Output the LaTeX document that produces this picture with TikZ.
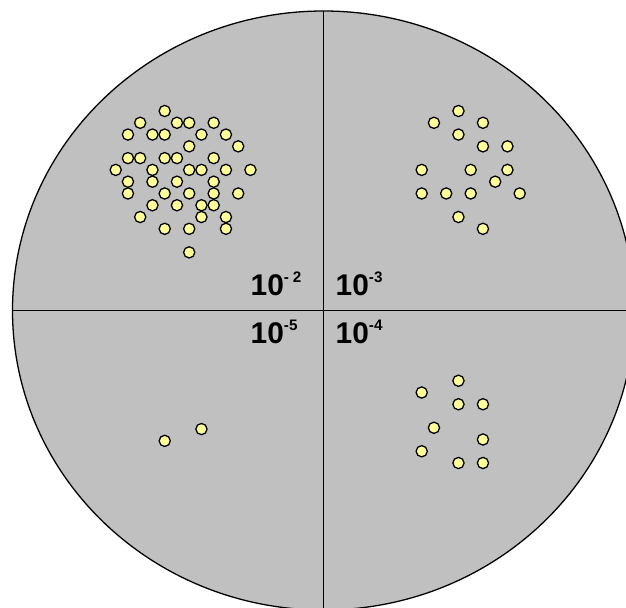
\documentclass[tikz,border=0pt]{standalone}
\usepackage{fontspec}
\setmainfont{Liberation Sans}
\definecolor{dishgray}{HTML}{C0C0C0}
\definecolor{colonyyellow}{HTML}{FFFF99}
\newcommand{\dilution}[1]{\fontsize{25.5}{30}\selectfont\bfseries 10\raisebox{0.42em}{\fontsize{13}{15}\selectfont #1}}
\begin{document}
\begin{tikzpicture}[x=0.03cm,y=-0.03cm,
  dish/.style={fill=dishgray,draw=black,line width=1.1pt},
  divider/.style={draw=black,line width=1.4pt},
  colony/.style={fill=colonyyellow,draw=black,line width=1.1pt},
  dilutionlabel/.style={inner sep=0pt,text=black}]
\useasboundingbox (0,0) rectangle (626,607);
\clip (0,0) rectangle (626,607);
\coordinate (centre) at (323.5,310.5);
\draw[dish] (centre) ellipse [x radius=311, y radius=299.5];
\draw[divider] (12.5,310.5) -- (640,310.5);
\draw[divider] (323.5,11) -- (323.5,620);
% 10^-2 quadrant
\foreach \c/\r in {4/0, 2/1,5/1,6/1,8/1, 1/2,3/2,4/2,7/2,9/2, 6/3,10/3,
    1/4,2/4,4/4,5/4,8/4, 0/5,3/5,6/5,7/5,9/5,11/5, 1/6,3/6,5/6,8/6,
    1/7,4/7,6/7,8/7,10/7, 3/8,5/8,7/8,8/8, 2/9,7/9,9/9, 4/10,6/10,9/10, 6/12}
  \draw[colony] ({115.7+12.25*\c},{111+11.78*\r}) circle (5.6);
% 10^-3 quadrant
\foreach \c/\r in {3/0, 1/1,5/1, 3/2, 5/3,7/3, 0/5,4/5,7/5, 6/6,
    0/7,2/7,4/7,8/7, 3/9, 5/10}
  \draw[colony] ({421.7+12.25*\c},{111+11.78*\r}) circle (5.6);
% 10^-4 quadrant
\foreach \c/\r in {3/23, 0/24, 3/25,5/25, 1/27, 5/28, 0/29, 3/30,5/30}
  \draw[colony] ({421.7+12.25*\c},{110.5+11.75*\r}) circle (5.6);
% 10^-5 quadrant
\foreach \c/\r in {7/27, 4/28}
  \draw[colony] ({115.7+12.25*\c},{111+11.78*\r}) circle (5.6);
\node[dilutionlabel,anchor=base west] (lab2) at (250.5,295.5) {\dilution{-\hspace{0.25em}2}};
\node[dilutionlabel,anchor=base west] (lab3) at (335.5,295.5) {\dilution{-3}};
\node[dilutionlabel,anchor=base west] (lab5) at (250.5,343.5) {\dilution{-5}};
\node[dilutionlabel,anchor=base west] (lab4) at (335.5,343.5) {\dilution{-4}};
\end{tikzpicture}
\end{document}
